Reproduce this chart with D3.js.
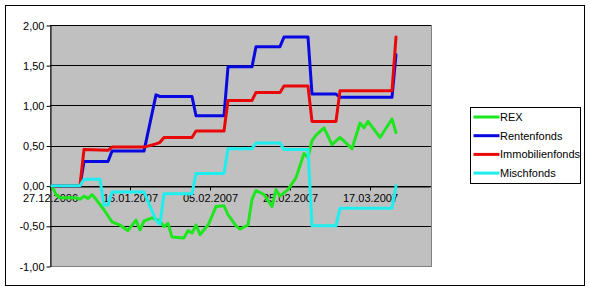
<!DOCTYPE html>
<html>
<head>
<meta charset="utf-8">
<script src="https://cdn.jsdelivr.net/npm/d3@7"></script>
<style>
    body { margin: 0; background: #ffffff; }
    svg { display: block; font-family: "Liberation Sans", Arial, sans-serif; }
</style>
</head>
<body>
<div id="chart"></div>
<script>
// Series names (legend order = drawing order)
const seriesNames = ["REX", "Rentenfonds", "Immobilienfonds", "Mischfonds"];
const seriesColors = ["#1ee61e", "#0808e0", "#e80808", "#1eeeee"];

// Date axis
const axisStart = "27.12.2006";
const axisEnd = "01.04.2007";
const tickLabels = ["27.12.2006", "16.01.2007", "05.02.2007", "25.02.2007", "17.03.2007"];
const yTicks = [-1, -0.5, 0, 0.5, 1, 1.5, 2];

// REX
const rexDates = ["27.12.2006", "28.12.2006", "29.12.2006", "02.01.2007", "03.01.2007", "04.01.2007",
    "05.01.2007", "06.01.2007", "07.01.2007", "09.01.2007", "11.01.2007", "13.01.2007", "15.01.2007",
    "17.01.2007", "18.01.2007", "19.01.2007", "21.01.2007", "23.01.2007", "24.01.2007", "25.01.2007",
    "26.01.2007", "29.01.2007", "30.01.2007", "31.01.2007", "01.02.2007", "02.02.2007", "04.02.2007",
    "05.02.2007", "06.02.2007", "08.02.2007", "09.02.2007", "11.02.2007", "12.02.2007", "14.02.2007",
    "15.02.2007", "16.02.2007", "18.02.2007", "20.02.2007", "21.02.2007", "22.02.2007", "24.02.2007",
    "26.02.2007", "28.02.2007", "01.03.2007", "02.03.2007", "03.03.2007", "05.03.2007", "07.03.2007",
    "09.03.2007", "12.03.2007", "14.03.2007", "15.03.2007", "16.03.2007", "19.03.2007", "22.03.2007",
    "23.03.2007"];
const rexValues = [0.00, -0.11, -0.15, -0.15, -0.17, -0.13,
    -0.16, -0.11, -0.17, -0.30, -0.45, -0.49, -0.56,
    -0.43, -0.55, -0.44, -0.40, -0.44, -0.51, -0.47,
    -0.64, -0.65, -0.56, -0.59, -0.49, -0.61, -0.49,
    -0.38, -0.26, -0.25, -0.36, -0.50, -0.54, -0.49,
    -0.17, -0.06, -0.11, -0.26, -0.05, -0.13, -0.05,
    0.10, 0.40, 0.35, 0.56, 0.63, 0.72, 0.51,
    0.60, 0.46, 0.78, 0.72, 0.80, 0.60, 0.83,
    0.66];

// Rentenfonds
const rentenDates = ["27.12.2006", "03.01.2007", "04.01.2007", "10.01.2007", "11.01.2007", "19.01.2007",
    "22.01.2007", "23.01.2007", "31.01.2007", "01.02.2007", "08.02.2007", "09.02.2007", "15.02.2007",
    "16.02.2007", "22.02.2007", "23.02.2007", "01.03.2007", "02.03.2007", "08.03.2007", "09.03.2007",
    "22.03.2007", "23.03.2007"];
const rentenValues = [0, 0, 0.30, 0.30, 0.43, 0.43,
    1.13, 1.11, 1.11, 0.87, 0.87, 1.48, 1.48,
    1.73, 1.73, 1.85, 1.85, 1.14, 1.14, 1.10,
    1.10, 1.63];

// Immobilienfonds
const immoDates = ["27.12.2006", "03.01.2007", "04.01.2007", "10.01.2007", "11.01.2007", "19.01.2007",
    "22.01.2007", "23.01.2007", "24.01.2007", "31.01.2007", "01.02.2007", "08.02.2007", "09.02.2007",
    "15.02.2007", "16.02.2007", "22.02.2007", "23.02.2007", "01.03.2007", "02.03.2007", "08.03.2007",
    "09.03.2007", "22.03.2007", "23.03.2007"];
const immoValues = [0, 0, 0.45, 0.44, 0.48, 0.48,
    0.52, 0.54, 0.60, 0.60, 0.68, 0.68, 1.06,
    1.06, 1.16, 1.16, 1.24, 1.24, 0.80, 0.80,
    1.18, 1.18, 1.85];

// Mischfonds
const mischDates = ["27.12.2006", "03.01.2007", "04.01.2007", "08.01.2007", "09.01.2007", "10.01.2007",
    "11.01.2007", "19.01.2007", "22.01.2007", "23.01.2007", "24.01.2007", "31.01.2007", "01.02.2007",
    "08.02.2007", "09.02.2007", "15.02.2007", "16.02.2007", "22.02.2007", "23.02.2007", "01.03.2007",
    "02.03.2007", "08.03.2007", "09.03.2007", "22.03.2007", "23.03.2007"];
const mischValues = [0, 0, 0.08, 0.08, -0.24, -0.24,
    -0.08, -0.08, -0.43, -0.48, -0.10, -0.10, 0.15,
    0.15, 0.46, 0.46, 0.53, 0.53, 0.45, 0.45,
    -0.50, -0.50, -0.28, -0.28, 0.00];

const seriesDates = [rexDates, rentenDates, immoDates, mischDates];
const seriesValues = [rexValues, rentenValues, immoValues, mischValues];

// Layout (pixels)
const width = 590;
const height = 291;
const plotLeft = 50;
const plotTop = 25;
const plotRight = 431;
const plotBottom = 266;

const parseDate = d3.utcParse("%d.%m.%Y");
const halfDay = 12 * 60 * 60 * 1000;   // Excel puts each point in the middle of its day slot

const locale = d3.formatLocale({ decimal: ",", thousands: ".", grouping: [3], currency: ["", " €"], minus: "-" });
const fmt = locale.format(".2f");

const svg = d3.select("#chart").append("svg")
    .attr("width", width)
    .attr("height", height);

// Chart area border
svg.append("rect")
    .attr("x", 5.5)
    .attr("y", 5.5)
    .attr("width", 579)
    .attr("height", 280)
    .attr("fill", "#ffffff")
    .attr("stroke", "#000000");

const x = d3.scaleUtc()
    .domain([parseDate(axisStart), parseDate(axisEnd)])
    .range([plotLeft, plotRight - 1]);

const y = d3.scaleLinear()
    .domain([-1, 2])
    .range([plotBottom, plotTop]);

// Plot area
svg.append("rect")
    .attr("x", plotLeft + 0.5)
    .attr("y", plotTop + 0.5)
    .attr("width", plotRight - plotLeft)
    .attr("height", plotBottom - plotTop)
    .attr("fill", "#c0c0c0")
    .attr("stroke", "#808080");

// Gridlines
svg.append("g")
    .selectAll("line")
    .data(yTicks.filter(v => v > -1))
    .enter()
    .append("line")
    .attr("x1", plotLeft)
    .attr("x2", plotRight)
    .attr("y1", d => Math.round(y(d)) + 0.5)
    .attr("y2", d => Math.round(y(d)) + 0.5)
    .attr("stroke", "#000000");

// Y axis
const yAxis = svg.append("g")
    .attr("transform", "translate(" + (plotLeft + 0.5) + ",0.5)")
    .call(d3.axisLeft(y).tickValues(yTicks).tickFormat(fmt).tickSize(4).tickSizeOuter(0));
yAxis.select(".domain").attr("stroke", "#000000");
yAxis.selectAll(".tick line").attr("stroke", "#000000");
yAxis.selectAll(".tick text")
    .attr("x", -6)
    .attr("font-family", "Liberation Sans, Arial, sans-serif")
    .attr("font-size", 11)
    .attr("fill", "#000000");

// X axis (crosses at 0)
const xAxis = svg.append("g")
    .attr("transform", "translate(0," + (Math.round(y(0)) + 0.5) + ")")
    .call(d3.axisBottom(x)
        .tickValues(tickLabels.map(parseDate))
        .tickFormat(d3.utcFormat("%d.%m.%Y"))
        .tickSize(4)
        .tickSizeOuter(0));
xAxis.select(".domain").attr("stroke", "#000000");
xAxis.selectAll(".tick line").attr("stroke", "#000000");
xAxis.selectAll(".tick text")
    .attr("y", 8)
    .attr("font-family", "Liberation Sans, Arial, sans-serif")
    .attr("font-size", 11)
    .attr("fill", "#000000");

// Lines
const line = d3.line()
    .x(d => x(new Date(d[0].getTime() + halfDay)))
    .y(d => y(d[1]));

svg.append("g")
    .selectAll(".seriesLine")
    .data(seriesNames)
    .enter()
    .append("path")
    .attr("class", "seriesLine")
    .attr("d", (name, i) => line(seriesDates[i].map((dt, j) => [parseDate(dt), seriesValues[i][j]])))
    .attr("fill", "none")
    .attr("stroke", (d, i) => seriesColors[i])
    .attr("stroke-width", 3)
    .attr("stroke-linejoin", "round")
    .attr("stroke-linecap", "round");

// Legend
const legend = svg.append("g").attr("transform", "translate(470.5,107.5)");
legend.append("rect")
    .attr("width", 110)
    .attr("height", 76)
    .attr("fill", "#ffffff")
    .attr("stroke", "#000000");

const entries = legend.selectAll(".legendEntry")
    .data(seriesNames)
    .enter()
    .append("g")
    .attr("class", "legendEntry")
    .attr("transform", (d, i) => "translate(0," + (9.5 + i * 18.7) + ")");
entries.append("line")
    .attr("x1", 3)
    .attr("x2", 29)
    .attr("stroke", (d, i) => seriesColors[i])
    .attr("stroke-width", 3);
entries.append("text")
    .attr("x", 29.5)
    .attr("dy", "0.36em")
    .attr("font-size", 11)
    .attr("fill", "#000000")
    .text(d => d);
</script>
</body>
</html>
